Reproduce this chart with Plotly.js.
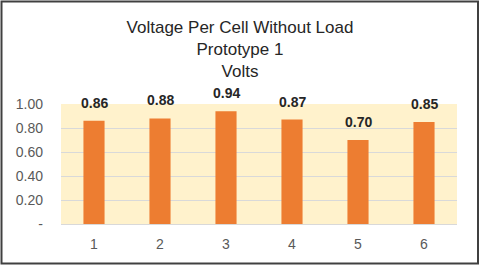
<!DOCTYPE html>
<html>
<head>
<meta charset="utf-8">
<script src="https://cdn.plot.ly/plotly-3.0.1.min.js"></script>
<style>html,body{margin:0;padding:0;background:#fff;}#chart{width:480px;height:267px;}</style>
</head>
<body>
<div id="chart"></div>
<script>
var categories = ["1", "2", "3", "4", "5", "6"];
var volts = [0.86, 0.88, 0.94, 0.87, 0.70, 0.85];
var yTickVals = [0, 0.2, 0.4, 0.6, 0.8, 1.0];
var yTickText = ["-", "0.20", "0.40", "0.60", "0.80", "1.00"];
var titleText = "Voltage Per Cell Without Load<br>Prototype 1<br>Volts";

var FONT = "Liberation Sans, Arial, sans-serif";

var trace = {
  type: "bar",
  x: categories,
  y: volts,
  width: 0.32,
  marker: {color: "#ED7D31", line: {width: 0}},
  hoverinfo: "none"
};

var labels = categories.map(function(c, i){
  return {
    x: i, y: volts[i], xref: "x", yref: "y",
    text: "<b>" + volts[i].toFixed(2) + "</b>",
    showarrow: false, yanchor: "bottom", xanchor: "center",
    yshift: 8,
    font: {family: FONT, size: 14, color: "#262626"}
  };
});

var layout = {
  width: 480,
  height: 267,
  margin: {l: 61, r: 23, t: 104, b: 43},
  paper_bgcolor: "#ffffff",
  plot_bgcolor: "#FFF2CC",
  showlegend: false,
  font: {family: FONT, color: "#595959", size: 14},
  title: {
    text: titleText,
    font: {family: FONT, size: 17, color: "#262626"},
    x: 0.5, xref: "container", xanchor: "center",
    y: 1 - 33/267, yref: "container", yanchor: "top"
  },
  xaxis: {
    type: "category",
    range: [-0.5, 5.5],
    autorange: false,
    showgrid: false,
    zeroline: false,
    showline: false,
    ticks: "",
    ticklabelstandoff: 10,
    tickfont: {family: FONT, size: 14, color: "#595959"}
  },
  yaxis: {
    range: [0, 1],
    autorange: false,
    tickvals: yTickVals,
    ticktext: yTickText,
    showgrid: true,
    gridcolor: "#D9D9D9",
    gridwidth: 1,
    zeroline: true,
    zerolinecolor: "#D9D9D9",
    showline: false,
    ticks: "",
    ticklabelstandoff: 17,
    tickfont: {family: FONT, size: 14, color: "#595959"}
  },
  annotations: labels,
  shapes: [{
    type: "rect", xref: "paper", yref: "paper",
    x0: (1.5 - 61) / 396, x1: (478 - 61) / 396,
    y0: (224 - 263.5) / 120, y1: 1 + (104 - 1.5) / 120,
    line: {color: "#404040", width: 2},
    fillcolor: "rgba(0,0,0,0)",
    layer: "above"
  }]
};

Plotly.newPlot("chart", [trace], layout, {staticPlot: true, displayModeBar: false});
</script>
</body>
</html>
